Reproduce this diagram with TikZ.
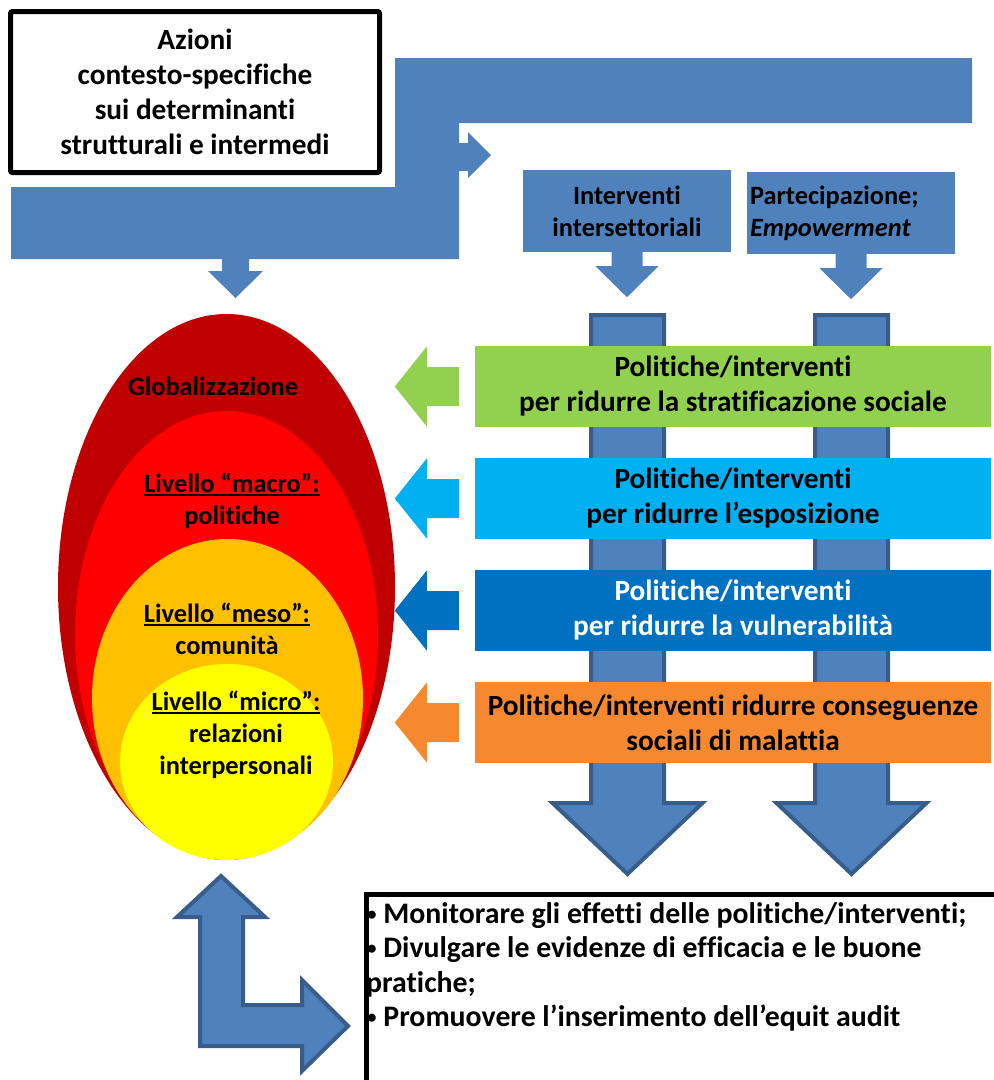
\documentclass[tikz,border=0pt]{standalone}
\usepackage{fontspec}
\setmainfont{Carlito}[Ligatures=NoCommon]
\definecolor{ppblue}{HTML}{4F81BD}
\definecolor{ppdark}{HTML}{385D8A}
\definecolor{pgreen}{HTML}{92D050}
\definecolor{pcyan}{HTML}{00B0F0}
\definecolor{pblue}{HTML}{0070C0}
\definecolor{porange}{HTML}{F68930}
\definecolor{edark}{HTML}{C00000}
\definecolor{ered}{HTML}{FF0000}
\definecolor{eorange}{HTML}{FFC000}
\definecolor{eyellow}{HTML}{FFFF00}
\newcommand\myul[1]{\setbox0=\hbox{#1}\rlap{\rule[-3.5pt]{\wd0}{2pt}}\box0}
\newcommand\mybul{\raisebox{2.5pt}{\fontsize{19}{19}\selectfont •}}
\tikzset{
  big/.style={font=\bfseries\fontsize{29.3}{35}\selectfont},
  bot/.style={font=\bfseries\fontsize{29.8}{35}\selectfont},
  mid/.style={font=\bfseries\fontsize{26.4}{32}\selectfont},
  cbox/.style={big, align=center, minimum width=516pt, minimum height=81pt, inner sep=0pt},
  tbox/.style={mid, fill=ppblue, minimum width=208pt, minimum height=82pt, text width=202pt, inner sep=3pt},
  barr/.style={fill=ppblue, draw=ppdark, line width=4pt, line join=miter},
  etext/.style={mid, align=center, inner sep=0pt},
  btext/.style={bot, anchor=base west, inner sep=0pt},
}
\begin{document}
\begin{tikzpicture}[x=1pt, y=-1pt]
\useasboundingbox (0,0) rectangle (994,1080);

% vertical long arrows (behind the coloured boxes)
\draw[barr] (591,315) -- (664,315) -- (664,803) -- (702.5,803) -- (627.5,874) -- (552.5,803) -- (591,803) -- cycle;
\draw[barr] (815,315) -- (888,315) -- (888,803) -- (926.5,803) -- (851.5,874) -- (776.5,803) -- (815,803) -- cycle;

% coloured boxes
\node[cbox, fill=pgreen] (g) at (733,386.5) {Politiche/interventi\\per ridurre la stratificazione sociale};
\node[cbox, fill=pcyan] (c) at (733,498.5) {Politiche/interventi\\per ridurre l’esposizione};
\node[cbox, fill=pblue, text=white] (b) at (733,610.5) {Politiche/interventi\\per ridurre la vulnerabilità};
\node[cbox, fill=porange] (o) at (733,722.5) {Politiche/interventi ridurre conseguenze\\sociali di malattia};

% left arrows
\foreach \n/\col in {g/pgreen, c/pcyan, b/pblue, o/porange}{
  \fill[\col] ([xshift=-16pt]\n.west) -- ++(0,-19.5) -- ++(-32,0) -- ++(0,-20.5) -- ++(-32,40) -- ++(32,40) -- ++(0,-20.5) -- ++(32,0) -- cycle;
}

% ellipses
\fill[edark] (226.5,587) ellipse [x radius=168.5pt, y radius=273pt];
\fill[ered] (226.5,634) ellipse [x radius=151.5pt, y radius=223pt];
\fill[eorange] (227.5,698.5) ellipse [x radius=135.5pt, y radius=159.5pt];
\fill[eyellow] (226.5,762) ellipse [x radius=106.5pt, y radius=98pt];

\node[etext] (glob) at (213,386) {Globalizzazione};
\node[etext] (mac) at (232,501) {\myul{Livello “macro”:}\\politiche};
\node[etext] (mes) at (227,629) {\myul{Livello “meso”:}\\comunità};
\node[etext] (mic) at (236,735) {\myul{Livello “micro”:}\\relazioni\\interpersonali};

% top left box
\node[draw, line width=5pt, rounded corners=2pt, minimum width=369pt, minimum height=161pt, big, align=center, inner sep=0pt] (act) at (195,92) {Azioni\\contesto-specifiche\\sui determinanti\\strutturali e intermedi};

% big bent arrow
\fill[ppblue] (11,187) -- (395,187) -- (395,58) -- (972,58) -- (972,123) -- (459,123) -- (459,143) -- (468,143) -- (468,132) -- (491,155) -- (468,178) -- (468,171) -- (459,171) -- (459,259) -- (249,259) -- (249,271) -- (263,271) -- (235.5,298) -- (208,271) -- (222,271) -- (222,259) -- (11,259) -- cycle;

% top small boxes
\node[tbox, align=center] (iv) at (627,211) {Interventi\\intersettoriali};
\node[tbox, align=left] (pa) at (851,213) {Partecipazione;\\\textit{Empowerment}};
\foreach \n in {iv, pa}{
  \fill[ppblue] ([xshift=-15.5pt]\n.south) -- ++(31,0) -- ++(0,14) -- ++(16,0) -- ++(-31.5,31) -- ++(-31.5,-31) -- ++(16,0) -- cycle;
}

% double bent arrow
\draw[barr] (221,876) -- (265,917) -- (243,917) -- (243,1005) -- (302,1005) -- (302,980) -- (348,1026) -- (302,1071) -- (302,1046) -- (200,1046) -- (200,917) -- (177,917) -- cycle;

% bottom box
\node[draw, line width=5pt, anchor=north west, minimum width=660pt, minimum height=220pt, inner sep=0pt] (bb) at (363.5,891.5) {};
\node[btext] (l1) at (367,923) {\mybul{} Monitorare gli effetti delle politiche/interventi;};
\node[btext] (l2) at (367,957) {\mybul{} Divulgare le evidenze di efficacia e le buone};
\node[btext] (l3) at (366,992) {pratiche;};
\node[btext] (l4) at (367,1026) {\mybul{} Promuovere l’inserimento dell’equit audit};
\end{tikzpicture}
\end{document}
